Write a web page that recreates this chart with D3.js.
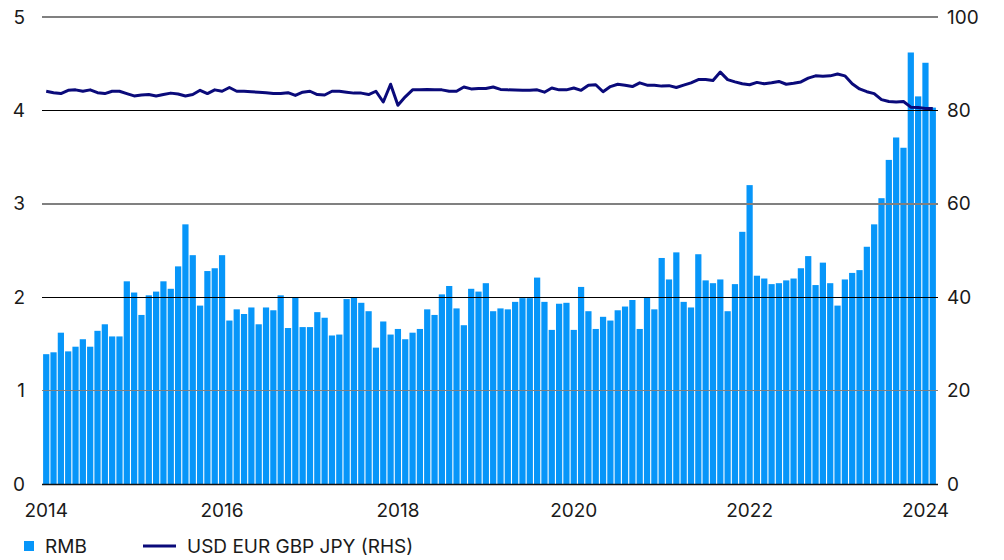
<!DOCTYPE html>
<html>
<head>
<meta charset="utf-8">
<script src="https://cdn.jsdelivr.net/npm/d3@7"></script>
<style>
  body { margin: 0; background: #fff; }
  svg text { font-family: Inter, "Noto Sans", sans-serif; fill: #1a1a1a; }
</style>
</head>
<body>
<div id="chart"></div>
<script>
// monthly categories Jan 2014 .. Feb 2024
const months = d3.timeMonths(new Date(2014, 0, 1), new Date(2024, 2, 1));

const rmb = [
  1.39, 1.41, 1.62, 1.42, 1.47, 1.55, 1.47, 1.64, 1.71, 1.58, 1.58, 2.17,
  2.05, 1.81, 2.02, 2.06, 2.17, 2.09, 2.33, 2.78, 2.45, 1.91, 2.28, 2.31,
  2.45, 1.75, 1.87, 1.82, 1.89, 1.71, 1.89, 1.86, 2.02, 1.67, 2.00, 1.68,
  1.68, 1.84, 1.78, 1.59, 1.60, 1.98, 2.00, 1.94, 1.85, 1.46, 1.74, 1.60,
  1.66, 1.55, 1.62, 1.66, 1.87, 1.81, 2.03, 2.12, 1.88, 1.70, 2.09, 2.06,
  2.15, 1.85, 1.88, 1.87, 1.95, 1.99, 1.99, 2.21, 1.95, 1.65, 1.93, 1.94,
  1.65, 2.11, 1.85, 1.66, 1.79, 1.75, 1.86, 1.90, 1.97, 1.66, 2.00, 1.87,
  2.42, 2.19, 2.48, 1.95, 1.89, 2.46, 2.18, 2.15, 2.19, 1.85, 2.14, 2.70,
  3.20, 2.23, 2.20, 2.14, 2.15, 2.18, 2.20, 2.31, 2.44, 2.13, 2.37, 2.15,
  1.91, 2.19, 2.26, 2.29, 2.54, 2.78, 3.06, 3.47, 3.71, 3.60, 4.62, 4.15,
  4.51, 4.03
];

const g4 = [
  84.1, 83.8, 83.6, 84.3, 84.4, 84.1, 84.4, 83.8, 83.6, 84.1, 84.1, 83.6,
  83.1, 83.3, 83.4, 83.1, 83.4, 83.7, 83.5, 83.1, 83.4, 84.3, 83.6, 84.4,
  84.1, 84.9, 84.1, 84.1, 84.0, 83.9, 83.8, 83.6, 83.6, 83.8, 83.2, 83.9,
  84.1, 83.4, 83.3, 84.1, 84.1, 83.9, 83.7, 83.7, 83.4, 84.1, 81.8, 85.6,
  81.1, 82.9, 84.4, 84.4, 84.5, 84.4, 84.4, 84.1, 84.1, 85.0, 84.6, 84.7,
  84.7, 85.0, 84.5, 84.4, 84.35, 84.3, 84.3, 84.4, 83.9, 84.8, 84.4, 84.4,
  84.8, 84.3, 85.4, 85.5, 84.0, 85.1, 85.6, 85.4, 85.1, 85.9, 85.4, 85.4,
  85.2, 85.3, 84.9, 85.4, 85.9, 86.6, 86.6, 86.4, 88.2, 86.6, 86.1, 85.7,
  85.5, 86.0, 85.7, 85.9, 86.2, 85.6, 85.8, 86.1, 86.9, 87.4, 87.3, 87.4,
  87.8, 87.4, 85.7, 84.6, 84.0, 83.6, 82.3, 81.9, 81.8, 81.9, 80.7, 80.6,
  80.4, 80.4
];

const leftTicks = [0, 1, 2, 3, 4, 5];
const rightTicks = [0, 20, 40, 60, 80, 100];
const yearTicks = [2014, 2016, 2018, 2020, 2022, 2024];
const seriesNames = ["RMB", "USD EUR GBP JPY (RHS)"];

const W = 1004, H = 560;
const margin = {top: 17, right: 66, bottom: 76, left: 42};
const barColor = "#0796f9";
const lineColor = "#0a0a7a";

const svg = d3.select("#chart").append("svg")
  .attr("width", W)
  .attr("height", H);

const data = months.map((m, i) => ({date: m, rmb: rmb[i], g4: g4[i]}));

const x = d3.scaleBand()
  .domain(months.map(d => +d))
  .range([margin.left, 937])
  .padding(0.15);

const yL = d3.scaleLinear().domain([0, 5]).range([H - margin.bottom, margin.top]);
const yR = d3.scaleLinear().domain([0, 100]).range([H - margin.bottom, margin.top]);

const gridX1 = margin.left, gridX2 = 938;

// bars
svg.append("g")
  .selectAll("rect")
  .data(data)
  .join("rect")
  .attr("x", d => x(+d.date))
  .attr("y", d => yL(d.rmb))
  .attr("width", x.bandwidth())
  .attr("height", d => yL(0) - yL(d.rmb))
  .attr("fill", barColor);

// gridlines (drawn over bars)
svg.append("g")
  .selectAll("line")
  .data(leftTicks.filter(d => d > 0))
  .join("line")
  .attr("x1", gridX1).attr("x2", gridX2)
  .attr("y1", d => yL(d)).attr("y2", d => yL(d))
  .attr("stroke", d => d % 2 ? "#808080" : "#000")
  .attr("stroke-width", d => d % 2 ? 1.4 : 1)
  .attr("shape-rendering", "crispEdges");

svg.append("line")
  .attr("x1", gridX1).attr("x2", gridX2)
  .attr("y1", yL(0) + 0.5).attr("y2", yL(0) + 0.5)
  .attr("stroke", "#111").attr("stroke-width", 1.5);

// line series
const line = d3.line()
  .x(d => x(+d.date) + x.bandwidth() / 2)
  .y(d => yR(d.g4));

svg.append("path")
  .datum(data)
  .attr("d", line)
  .attr("fill", "none")
  .attr("stroke", lineColor)
  .attr("stroke-width", 3)
  .attr("stroke-linejoin", "round");

// axes
const leftAxis = d3.axisLeft(yL).tickValues(leftTicks).tickSize(0).tickPadding(0).tickFormat(d3.format("d"));
svg.append("g")
  .attr("transform", `translate(25,0)`)
  .call(leftAxis)
  .call(g => g.select(".domain").remove())
  .selectAll("text").style("font-size", "19px");

const rightAxis = d3.axisRight(yR).tickValues(rightTicks).tickSize(0).tickPadding(0).tickFormat(d3.format("d"));
svg.append("g")
  .attr("transform", `translate(947,0)`)
  .call(rightAxis)
  .call(g => g.select(".domain").remove())
  .selectAll("text").style("font-size", "19px");

const bottomAxis = d3.axisBottom(x)
  .tickValues(yearTicks.map(y => +new Date(y, 0, 1)))
  .tickSize(0)
  .tickPadding(0)
  .tickFormat(d => new Date(d).getFullYear());
svg.append("g")
  .attr("transform", `translate(0,${yL(0) + 19})`)
  .call(bottomAxis)
  .call(g => g.select(".domain").remove())
  .selectAll("text").style("font-size", "19px");

// legend
const lg = svg.append("g").attr("transform", "translate(0,546)");
lg.append("rect").attr("x", 24).attr("y", -5).attr("width", 10).attr("height", 10).attr("fill", barColor);
lg.append("text").attr("x", 45).attr("dy", "0.35em").style("font-size", "19px").text(seriesNames[0]);
lg.append("line").attr("x1", 143).attr("x2", 176).attr("y1", 0).attr("y2", 0)
  .attr("stroke", lineColor).attr("stroke-width", 3);
lg.append("text").attr("x", 187).attr("dy", "0.35em").style("font-size", "19px").text(seriesNames[1]);
</script>
</body>
</html>
